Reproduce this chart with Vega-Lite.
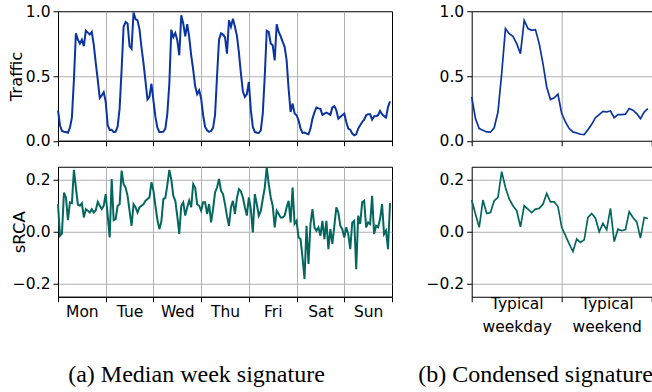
{
 "$schema": "https://vega.github.io/schema/vega-lite/v6.json",
 "padding": {"left": 7, "top": 3.25, "right": 0, "bottom": 0},
 "background": "white",
 "config": {
  "view": {"stroke": "black", "strokeWidth": 1},
  "font": "DejaVu Sans",
  "axis": {"labelFont": "DejaVu Sans", "labelFontSize": 15.5, "labelColor": "black", "titleFont": "DejaVu Sans", "titleFontSize": 16.5, "titleFontWeight": "normal", "titleColor": "black", "domainColor": "black", "domainWidth": 1, "tickColor": "black", "tickSize": 5, "tickWidth": 1, "gridColor": "#b0b0b0", "gridWidth": 1, "labelPadding": 3, "labelOverlap": false, "labelFlush": false}
 },
 "datasets": {
  "week": [
   {"h":0,"t":0.235,"s":0.106},{"h":1,"t":0.12,"s":-0.015},{"h":2,"t":0.075,"s":-0.006},{"h":3,"t":0.07,"s":0.15},{"h":4,"t":0.068,"s":0.132},{"h":5,"t":0.062,"s":0.045},{"h":6,"t":0.1,"s":0.113},{"h":7,"t":0.18,"s":0.11},{"h":8,"t":0.47,"s":0.238},{"h":9,"t":0.83,"s":0.17},{"h":10,"t":0.78,"s":0.104},{"h":11,"t":0.75,"s":0.1},{"h":12,"t":0.78,"s":0.11},{"h":13,"t":0.73,"s":0.055},{"h":14,"t":0.85,"s":0.087},{"h":15,"t":0.835,"s":0.081},{"h":16,"t":0.82,"s":0.074},{"h":17,"t":0.84,"s":0.087},{"h":18,"t":0.74,"s":0.074},{"h":19,"t":0.6,"s":0.083},{"h":20,"t":0.47,"s":0.115},{"h":21,"t":0.33,"s":0.1},{"h":22,"t":0.35,"s":0.087},{"h":23,"t":0.375,"s":0.1},
   {"h":24,"t":0.3,"s":0.145},{"h":25,"t":0.12,"s":0.062},{"h":26,"t":0.083,"s":-0.022},{"h":27,"t":0.085,"s":0.203},{"h":28,"t":0.066,"s":0.045},{"h":29,"t":0.07,"s":0.049},{"h":30,"t":0.11,"s":0.1},{"h":31,"t":0.25,"s":0.106},{"h":32,"t":0.55,"s":0.235},{"h":33,"t":0.88,"s":0.183},{"h":34,"t":0.917,"s":0.17},{"h":35,"t":0.905,"s":0.138},{"h":36,"t":0.73,"s":0.08},{"h":37,"t":0.71,"s":0.023},{"h":38,"t":0.99,"s":0.106},{"h":39,"t":0.94,"s":0.094},{"h":40,"t":0.93,"s":0.074},{"h":41,"t":0.86,"s":0.094},{"h":42,"t":0.72,"s":0.1},{"h":43,"t":0.6,"s":0.106},{"h":44,"t":0.46,"s":0.119},{"h":45,"t":0.32,"s":0.126},{"h":46,"t":0.34,"s":0.132},{"h":47,"t":0.44,"s":0.19},
   {"h":48,"t":0.312,"s":0.158},{"h":49,"t":0.184,"s":0.1},{"h":50,"t":0.1,"s":0.045},{"h":51,"t":0.068,"s":0.01},{"h":52,"t":0.068,"s":0.04},{"h":53,"t":0.07,"s":0.126},{"h":54,"t":0.094,"s":0.13},{"h":55,"t":0.21,"s":0.18},{"h":56,"t":0.44,"s":0.238},{"h":57,"t":0.858,"s":0.2},{"h":58,"t":0.8,"s":0.138},{"h":59,"t":0.832,"s":0.119},{"h":60,"t":0.776,"s":0.06},{"h":61,"t":0.66,"s":-0.008},{"h":62,"t":0.969,"s":0.1},{"h":63,"t":0.905,"s":0.113},{"h":64,"t":0.807,"s":0.062},{"h":65,"t":0.9,"s":0.094},{"h":66,"t":0.8,"s":0.12},{"h":67,"t":0.66,"s":0.094},{"h":68,"t":0.55,"s":0.183},{"h":69,"t":0.42,"s":0.17},{"h":70,"t":0.36,"s":0.106},{"h":71,"t":0.39,"s":0.1},
   {"h":72,"t":0.326,"s":0.081},{"h":73,"t":0.197,"s":0.113},{"h":74,"t":0.107,"s":0.113},{"h":75,"t":0.081,"s":0.068},{"h":76,"t":0.068,"s":0.106},{"h":77,"t":0.075,"s":0.036},{"h":78,"t":0.1,"s":0.087},{"h":79,"t":0.2,"s":0.151},{"h":80,"t":0.5,"s":0.17},{"h":81,"t":0.78,"s":0.203},{"h":82,"t":0.83,"s":0.158},{"h":83,"t":0.82,"s":0.145},{"h":84,"t":0.8,"s":0.106},{"h":85,"t":0.673,"s":0.06},{"h":86,"t":0.93,"s":0.023},{"h":87,"t":0.88,"s":0.094},{"h":88,"t":0.943,"s":0.119},{"h":89,"t":0.879,"s":0.068},{"h":90,"t":0.81,"s":0.13},{"h":91,"t":0.68,"s":0.164},{"h":92,"t":0.52,"s":0.155},{"h":93,"t":0.38,"s":0.132},{"h":94,"t":0.339,"s":0.094},{"h":95,"t":0.36,"s":0.062},
   {"h":96,"t":0.454,"s":0.132},{"h":97,"t":0.236,"s":0.087},{"h":98,"t":0.107,"s":-0.003},{"h":99,"t":0.068,"s":0.145},{"h":100,"t":0.062,"s":0.106},{"h":101,"t":0.06,"s":0.062},{"h":102,"t":0.081,"s":0.08},{"h":103,"t":0.21,"s":0.126},{"h":104,"t":0.5,"s":0.17},{"h":105,"t":0.85,"s":0.248},{"h":106,"t":0.84,"s":0.183},{"h":107,"t":0.75,"s":0.132},{"h":108,"t":0.737,"s":0.1},{"h":109,"t":0.62,"s":0.017},{"h":110,"t":0.9,"s":0.081},{"h":111,"t":0.84,"s":0.068},{"h":112,"t":0.807,"s":0.055},{"h":113,"t":0.763,"s":0.055},{"h":114,"t":0.725,"s":0.062},{"h":115,"t":0.62,"s":0.094},{"h":116,"t":0.4,"s":0.119},{"h":117,"t":0.222,"s":0.036},{"h":118,"t":0.287,"s":0.17},{"h":119,"t":0.21,"s":0.03},
   {"h":120,"t":0.197,"s":0.042},{"h":121,"t":0.158,"s":-0.022},{"h":122,"t":0.094,"s":-0.028},{"h":123,"t":0.06,"s":-0.1},{"h":124,"t":0.063,"s":-0.182},{"h":125,"t":0.055,"s":0.023},{"h":126,"t":0.05,"s":-0.124},{"h":127,"t":0.094,"s":0.03},{"h":128,"t":0.171,"s":0.087},{"h":129,"t":0.22,"s":0.017},{"h":130,"t":0.257,"s":0.004},{"h":131,"t":0.25,"s":0.017},{"h":132,"t":0.246,"s":-0.015},{"h":133,"t":0.2,"s":0.042},{"h":134,"t":0.21,"s":-0.028},{"h":135,"t":0.217,"s":0.042},{"h":136,"t":0.21,"s":-0.067},{"h":137,"t":0.2,"s":0.01},{"h":138,"t":0.257,"s":-0.047},{"h":139,"t":0.267,"s":0.023},{"h":140,"t":0.236,"s":0.094},{"h":141,"t":0.171,"s":0.074},{"h":142,"t":0.184,"s":0.023},{"h":143,"t":0.197,"s":0.01},
   {"h":144,"t":0.21,"s":-0.022},{"h":145,"t":0.145,"s":0.017},{"h":146,"t":0.094,"s":-0.009},{"h":147,"t":0.086,"s":-0.067},{"h":148,"t":0.055,"s":0.036},{"h":149,"t":0.042,"s":0.042},{"h":150,"t":0.05,"s":-0.144},{"h":151,"t":0.094,"s":0.062},{"h":152,"t":0.12,"s":0.03},{"h":153,"t":0.145,"s":0.113},{"h":154,"t":0.163,"s":0.119},{"h":155,"t":0.197,"s":0.017},{"h":156,"t":0.205,"s":0.036},{"h":157,"t":0.205,"s":0.03},{"h":158,"t":0.163,"s":0.138},{"h":159,"t":0.19,"s":-0.009},{"h":160,"t":0.19,"s":0.023},{"h":161,"t":0.197,"s":0.017},{"h":162,"t":0.23,"s":0.049},{"h":163,"t":0.205,"s":0.106},{"h":164,"t":0.19,"s":-0.009},{"h":165,"t":0.179,"s":0.004},{"h":166,"t":0.26,"s":-0.067},{"h":167,"t":0.304,"s":0.11}
  ],
  "cond": [
   {"h":0,"t":0.338,"s":0.122},{"h":1,"t":0.171,"s":0.068},{"h":2,"t":0.094,"s":0.017},{"h":3,"t":0.081,"s":0.122},{"h":4,"t":0.068,"s":0.07},{"h":5,"t":0.066,"s":0.074},{"h":6,"t":0.1,"s":0.119},{"h":7,"t":0.222,"s":0.132},{"h":8,"t":0.52,"s":0.231},{"h":9,"t":0.866,"s":0.17},{"h":10,"t":0.827,"s":0.126},{"h":11,"t":0.807,"s":0.1},{"h":12,"t":0.75,"s":0.081},{"h":13,"t":0.673,"s":0.019},{"h":14,"t":0.93,"s":0.1},{"h":15,"t":0.866,"s":0.087},{"h":16,"t":0.853,"s":0.074},{"h":17,"t":0.858,"s":0.087},{"h":18,"t":0.75,"s":0.09},{"h":19,"t":0.596,"s":0.106},{"h":20,"t":0.415,"s":0.147},{"h":21,"t":0.318,"s":0.115},{"h":22,"t":0.331,"s":0.115},{"h":23,"t":0.359,"s":0.097},
   {"h":24,"t":0.21,"s":0.017},{"h":25,"t":0.145,"s":-0.015},{"h":26,"t":0.094,"s":-0.047},{"h":27,"t":0.068,"s":-0.076},{"h":28,"t":0.06,"s":-0.028},{"h":29,"t":0.05,"s":-0.041},{"h":30,"t":0.048,"s":-0.031},{"h":31,"t":0.085,"s":0.055},{"h":32,"t":0.127,"s":0.07},{"h":33,"t":0.178,"s":0.052},{"h":34,"t":0.202,"s":0.0},{"h":35,"t":0.227,"s":0.032},{"h":36,"t":0.222,"s":0.008},{"h":37,"t":0.23,"s":0.09},{"h":38,"t":0.178,"s":-0.038},{"h":39,"t":0.202,"s":0.01},{"h":40,"t":0.202,"s":0.004},{"h":41,"t":0.205,"s":0.008},{"h":42,"t":0.249,"s":0.077},{"h":43,"t":0.236,"s":0.055},{"h":44,"t":0.21,"s":0.038},{"h":45,"t":0.171,"s":-0.024},{"h":46,"t":0.222,"s":0.055},{"h":47,"t":0.249,"s":0.051}
  ]
 },
 "columns": 2,
 "spacing": {"row": 25.5, "column": 79.7},
 "bounds": "flush",
 "concat": [
  {
   "width": 334, "height": 129.5,
   "data": {"name": "week"},
   "mark": {"type": "line", "color": "#0b34a3", "strokeWidth": 2},
   "encoding": {
    "x": {"field": "h", "type": "quantitative", "scale": {"domain": [0, 168], "nice": false, "zero": false},
     "axis": {"values": [0, 24, 48, 72, 96, 120, 144, 168], "labels": false, "title": null, "grid": true,
      "gridOpacity": {"condition": {"test": "datum.value > 0 && datum.value < 168", "value": 1}, "value": 0}}},
    "y": {"field": "t", "type": "quantitative", "scale": {"domain": [0, 1], "nice": false},
     "axis": {"values": [0, 0.5, 1], "format": ".1f", "title": "Traffic", "titleX": -42, "titleBaseline": "middle", "grid": true,
      "gridOpacity": {"condition": {"test": "datum.value == 0.5", "value": 1}, "value": 0}}}
   }
  },
  {
   "width": 180, "height": 129.5,
   "data": {"name": "cond"},
   "view": {"stroke": null},
   "resolve": {"axis": {"x": "independent"}},
   "layer": [
    {
     "mark": {"type": "line", "color": "#0b34a3", "strokeWidth": 1.7},
     "encoding": {
      "x": {"field": "h", "type": "quantitative", "scale": {"domain": [0, 48], "nice": false, "zero": false},
       "axis": {"values": [0, 24, 48], "labels": false, "title": null, "grid": true,
        "gridOpacity": {"condition": {"test": "datum.value == 24", "value": 1}, "value": 0}}},
      "y": {"field": "t", "type": "quantitative", "scale": {"domain": [0, 1], "nice": false},
       "axis": {"values": [0, 0.5, 1], "format": ".1f", "title": null, "grid": true,
        "gridOpacity": {"condition": {"test": "datum.value == 0.5", "value": 1}, "value": 0}}}
     }
    },
    {
     "mark": {"type": "line", "opacity": 0},
     "encoding": {
      "x": {"field": "h", "type": "quantitative",
       "axis": {"orient": "top", "labels": false, "ticks": false, "grid": false, "title": null, "domain": true}},
      "y": {"field": "t", "type": "quantitative"}
     }
    }
   ]
  },
  {
   "width": 334, "height": 130,
   "data": {"name": "week"},
   "mark": {"type": "line", "color": "#03675f", "strokeWidth": 2},
   "encoding": {
    "x": {"field": "h", "type": "quantitative", "scale": {"domain": [0, 168], "nice": false, "zero": false},
     "axis": {"values": [0, 12, 24, 36, 48, 60, 72, 84, 96, 108, 120, 132, 144, 156, 168],
      "labelExpr": "datum.value % 24 == 12 ? ['Mon','Tue','Wed','Thu','Fri','Sat','Sun'][floor(datum.value / 24)] : ''",
      "tickOpacity": {"condition": {"test": "datum.value % 24 == 0", "value": 1}, "value": 0},
      "grid": true,
      "gridOpacity": {"condition": {"test": "datum.value % 24 == 0 && datum.value > 0 && datum.value < 168", "value": 1}, "value": 0},
      "title": "(a) Median week signature", "titleFont": "Liberation Serif", "titleFontSize": 24,
      "titleX": 138, "titleY": 85, "titleBaseline": "alphabetic", "titleAlign": "center"}},
    "y": {"field": "s", "type": "quantitative", "scale": {"domain": [-0.25, 0.25], "nice": false, "zero": false},
     "axis": {"values": [-0.2, 0, 0.2], "format": ".1f", "title": "sRCA", "titleX": -39, "titleBaseline": "middle", "grid": true}}
   }
  },
  {
   "width": 180, "height": 130,
   "data": {"name": "cond"},
   "view": {"stroke": null},
   "resolve": {"axis": {"x": "independent"}},
   "layer": [
    {
     "mark": {"type": "line", "color": "#03675f", "strokeWidth": 1.7},
     "encoding": {
      "x": {"field": "h", "type": "quantitative", "scale": {"domain": [0, 48], "nice": false, "zero": false},
       "axis": {"values": [0, 12, 24, 36, 48],
        "labelExpr": "datum.value == 12 ? ['Typical','weekday'] : datum.value == 36 ? ['Typical','weekend'] : ''",
        "labelLineHeight": 23, "labelPadding": -5,
        "tickOpacity": {"condition": {"test": "datum.value % 24 == 0", "value": 1}, "value": 0},
        "grid": true,
        "gridOpacity": {"condition": {"test": "datum.value == 24", "value": 1}, "value": 0},
        "title": "(b) Condensed signature", "titleFont": "Liberation Serif", "titleFontSize": 24,
        "titleX": 63.3, "titleY": 85, "titleBaseline": "alphabetic", "titleAlign": "center"}},
      "y": {"field": "s", "type": "quantitative", "scale": {"domain": [-0.25, 0.25], "nice": false, "zero": false},
       "axis": {"values": [-0.2, 0, 0.2], "format": ".1f", "title": null, "grid": true}}
     }
    },
    {
     "mark": {"type": "line", "opacity": 0},
     "encoding": {
      "x": {"field": "h", "type": "quantitative",
       "axis": {"orient": "top", "labels": false, "ticks": false, "grid": false, "title": null, "domain": true}},
      "y": {"field": "s", "type": "quantitative"}
     }
    }
   ]
  }
 ]
}
